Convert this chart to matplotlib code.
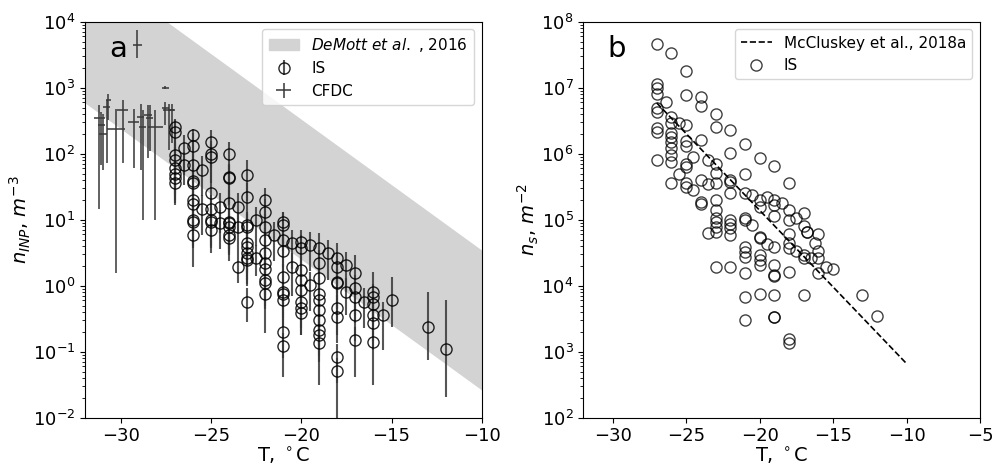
import numpy as np
import matplotlib
matplotlib.use('Agg')
import matplotlib.pyplot as plt
from matplotlib.patches import Patch

# ---- panel a: IS (immersion freezing), log10 n_INP with error bars (decades)
is_T = [-27, -27, -27, -27, -27, -27, -27, -27,
        -26.5, -26.5,
        -26, -26, -26, -26, -26, -26, -26, -26, -26, -26,
        -25.5, -25.5,
        -25, -25, -25, -25, -25, -25, -25, -25,
        -24.5, -24.5,
        -24, -24, -24, -24, -24, -24, -24, -24, -24,
        -23.5, -23.5, -23.5,
        -23, -23, -23, -23, -23, -23, -23, -23, -23, -23,
        -22.5, -22.5,
        -22, -22, -22, -22, -22, -22, -22, -22, -22, -22,
        -21.5,
        -21, -21, -21, -21, -21, -21, -21, -21, -21, -21,
        -20.5, -20.5,
        -20, -20, -20, -20, -20, -20, -20, -20,
        -19.5, -19.5,
        -19, -19, -19, -19, -19, -19, -19, -19, -19, -19,
        -18.5,
        -18, -18, -18, -18, -18, -18, -18, -18,
        -17.5, -17.5,
        -17, -17, -17, -17, -17,
        -16.5,
        -16, -16, -16, -16, -16, -16,
        -15.5, -15, -13, -12]
is_logn = [2.41, 2.33, 1.98, 1.90, 1.78, 1.70, 1.63, 1.55,
           2.08, 1.83,
           2.28, 2.11, 1.83, 1.58, 1.55, 1.30, 1.24, 1.00, 0.97, 0.77,
           1.76, 1.17,
           2.18, 2.00, 1.95, 1.40, 1.17, 1.00, 0.97, 0.84,
           1.20, 0.95,
           2.00, 1.65, 1.63, 1.25, 0.97, 0.95, 0.89, 0.77, 0.72,
           1.20, 0.89, 0.29,
           1.68, 1.35, 0.92, 0.89, 0.64, 0.59, 0.49, 0.42, 0.39, -0.24,
           1.00, 0.42,
           1.30, 1.12, 0.89, 0.69, 0.49, 0.34, 0.26, 0.09, 0.04, -0.12,
           0.77,
           0.97, 0.92, 0.69, 0.52, 0.13, -0.09, -0.12, -0.22, -0.70, -0.92,
           0.65, 0.29,
           0.67, 0.57, 0.24, 0.09, -0.07, -0.24, -0.34, -0.42,
           0.62, 0.01,
           0.57, 0.34, 0.11, -0.12, -0.22, -0.37, -0.52, -0.67, -0.75, -0.87,
           0.49,
           0.42, 0.29, 0.06, 0.04, -0.34, -0.47, -1.08, -1.30,
           0.31, -0.09,
           0.19, -0.04, -0.17, -0.44, -0.82,
           -0.24,
           -0.09, -0.17, -0.27, -0.44, -0.57, -0.85,
           -0.44, -0.22, -0.63, -0.96]
# lowest point of each column carries the long lower bar
is_dlo_low = {-27: 0.30, -26.5: 0.3, -26: 0.48, -25.5: 0.4, -25: 0.35, -24.5: 0.4,
              -24: 0.25, -23.5: 0.25, -23: 0.31, -22.5: 0.28, -22: 0.6, -21.5: 0.4,
              -21: 0.46, -20.5: 0.45, -20: 0.33, -19.5: 0.4, -19: 0.63, -18.5: 0.4,
              -18: 3.0, -17.5: 0.35, -17: 0.56, -16.5: 0.4, -16: 0.65,
              -15.5: 0.53, -15: 0.40, -13: 0.50, -12: 0.72}
is_dhi_top = {-27: 0.10, -26: 0.10, -25: 0.18, -24: 0.18, -23: 0.22, -22: 0.18,
              -21: 0.15, -20: 0.17, -19: 0.23, -18: 0.23, -17: 0.28, -16: 0.30,
              -15: 0.35, -13: 0.54, -12: 0.74}

# ---- panel a: CFDC
cf_T = [-31.2, -31.1, -31.0, -30.8, -30.7, -30.3, -29.9, -29.3, -28.9,
        -28.8, -28.5, -28.4, -28.1, -27.55, -27.55, -27.35, -27.2, -29.1]
cf_logn = [2.54, 2.43, 2.30, 2.71, 2.81, 2.38, 2.66, 2.48, 2.56,
           2.41, 2.59, 2.54, 2.41, 3.00, 2.69, 2.66, 2.66, 3.65]
cf_dT = [0.3, 0.2, 0.2, 0.2, 0.15, 0.5, 0.3, 0.3, 0.2,
         0.2, 0.2, 0.2, 0.4, 0.2, 0.2, 0.3, 0.2, 0.25]
cf_dlo = [1.37, 0.6, 0.55, 0.85, 0.3, 2.19, 0.8, 0.7, 0.8,
          1.41, 0.65, 0.5, 1.41, 0.02, 0.25, 0.6, 0.5, 0.2]
cf_dhi = [0.2, 0.2, 0.3, 0.1, 0.1, 0.3, 0.15, 0.2, 0.2,
          0.25, 0.15, 0.2, 0.25, 0.02, 0.1, 0.1, 0.1, 0.22]

# DeMott et al. 2016 band edges (log10 n_INP)
dm_T = [-32, -10]
dm_low = [2.77, -1.58]
dm_high = [4.90, 0.54]

# ---- panel b: IS n_s (log10)
ns_T = [-27, -27, -27, -27, -27, -27, -27, -27, -27,
        -26.4,
        -26, -26, -26, -26, -26, -26, -26, -26, -26, -26,
        -25.5, -25.5,
        -25, -25, -25, -25, -25, -25, -25, -25, -25,
        -24.5, -24.5,
        -24, -24, -24, -24, -24, -24,
        -23.5, -23.5, -23.5,
        -23, -23, -23, -23, -23, -23, -23, -23, -23, -23, -23, -23,
        -22, -22, -22, -22, -22, -22, -22, -22, -22, -22,
        -21, -21, -21, -21, -21, -21, -21, -21, -21, -21, -21,
        -20.5, -20.5,
        -20, -20, -20, -20, -20, -20, -20, -20, -20,
        -19.5, -19.5,
        -19, -19, -19, -19, -19, -19, -19, -19, -19, -19, -19,
        -18.5,
        -18, -18, -18, -18, -18, -18, -18, -18, -18,
        -17.5, -17.5,
        -17, -17, -16.8, -16.8, -17, -17, -17,
        -16.5, -16.2,
        -16, -16, -16, -16,
        -15.5, -15, -13, -12]
ns_log = [7.66, 7.06, 6.99, 6.90, 6.69, 6.64, 6.39, 6.33, 5.90,
          6.79,
          7.52, 6.55, 6.46, 6.32, 6.26, 6.18, 6.08, 5.98, 5.88, 5.56,
          6.47, 5.69,
          7.25, 6.89, 6.43, 6.20, 6.12, 5.84, 5.80, 5.56, 5.50,
          5.95, 5.45,
          6.86, 6.72, 6.21, 5.60, 5.27, 5.24,
          5.91, 5.54, 4.80,
          6.60, 6.40, 5.84, 5.71, 5.55, 5.30, 5.15, 5.02, 4.96, 4.89, 4.82, 4.29,
          6.36, 6.01, 5.60, 5.57, 5.40, 5.00, 4.94, 4.87, 4.77, 4.29,
          6.15, 5.69, 5.40, 5.02, 5.00, 4.59, 4.51, 4.43, 4.19, 3.83, 3.48,
          5.37, 4.92,
          5.93, 5.30, 5.20, 4.74, 4.72, 4.47, 4.39, 4.31, 3.88,
          5.35, 4.63,
          5.82, 5.30, 5.22, 5.05, 4.59, 4.31, 4.16, 4.14, 3.86, 3.53, 3.52,
          5.25,
          5.55, 5.15, 5.00, 4.79, 4.64, 4.57, 4.21, 3.20, 3.13,
          5.02, 4.53,
          5.10, 4.90, 4.82, 4.82, 4.47, 4.42, 3.86,
          4.42, 4.64,
          4.79, 4.52, 4.42, 4.19,
          4.29, 4.26, 3.86, 3.54]

# McCluskey et al. 2018a fit line (log10 n_s)
mc_T = [-27, -10]
mc_log = [6.77, 2.82]

TICK_FS = 13
LAB_FS = 14
GREY = '0.22'

fig = plt.figure(figsize=(9.95, 4.68), dpi=100)
ax1 = fig.add_axes([0.0854, 0.1075, 0.3987, 0.846])
ax2 = fig.add_axes([0.5862, 0.1075, 0.3987, 0.846])

# ---------- panel a
ax1.fill_between(dm_T, 10 ** np.array(dm_low), 10 ** np.array(dm_high),
                 color='lightgray', linewidth=0, zorder=0)

T = np.array(is_T, dtype=float)
L = np.array(is_logn)
dlo = np.full(len(T), 0.4)
dhi = np.full(len(T), 0.2)
for t in np.unique(T):
    idx = np.where(T == t)[0]
    lowest = idx[np.argmin(L[idx])]
    top = idx[np.argmax(L[idx])]
    dlo[lowest] = is_dlo_low.get(t, 0.4)
    dhi[top] = is_dhi_top.get(t, 0.2)
n = 10 ** L
yerr = [n - 10 ** (L - dlo), 10 ** (L + dhi) - n]
ax1.errorbar(T, n, yerr=yerr, fmt='o', mfc='none', mec='k', ms=8, mew=1.0,
             ecolor=GREY, elinewidth=1.5, capsize=0, alpha=0.85, label='IS', zorder=3)

cL = np.array(cf_logn)
cn = 10 ** cL
cyerr = [cn - 10 ** (cL - np.array(cf_dlo)), 10 ** (cL + np.array(cf_dhi)) - cn]
ax1.errorbar(cf_T, cn, xerr=cf_dT, yerr=cyerr, fmt='none', ecolor=GREY,
             elinewidth=1.3, capsize=0, alpha=0.85, label='CFDC', zorder=2)

ax1.set_yscale('log')
ax1.set_xlim(-32, -10)
ax1.set_ylim(1e-2, 1e4)
ax1.set_xticks([-30, -25, -20, -15, -10])
ax1.tick_params(labelsize=TICK_FS)
ax1.set_xlabel(r'T, $^\circ$C', fontsize=LAB_FS, labelpad=0)
ax1.set_ylabel(r'$n_{INP}$, $m^{-3}$', fontsize=LAB_FS, labelpad=0)
ax1.text(0.06, 0.93, 'a', transform=ax1.transAxes, fontsize=21, va='center')

h, lab = ax1.get_legend_handles_labels()
band = Patch(color='lightgray', label=r'$\it{DeMott\ et\ al.}$ , 2016')
ax1.legend([band] + h, [band.get_label()] + lab, loc='upper right', fontsize=11)

# ---------- panel b
ax2.plot(mc_T, 10 ** np.array(mc_log), '--', color='k', lw=1.2,
         label='McCluskey et al., 2018a')
ax2.plot(ns_T, 10 ** np.array(ns_log), 'o', mfc='none', mec='k', ms=8, mew=1.0,
         alpha=0.75, label='IS')
ax2.set_yscale('log')
ax2.set_xlim(-32, -5)
ax2.set_ylim(1e2, 1e8)
ax2.set_xticks([-30, -25, -20, -15, -10, -5])
ax2.tick_params(labelsize=TICK_FS)
ax2.set_xlabel(r'T, $^\circ$C', fontsize=LAB_FS, labelpad=0)
ax2.set_ylabel(r'$n_s$, $m^{-2}$', fontsize=LAB_FS, labelpad=0)
ax2.text(0.06, 0.93, 'b', transform=ax2.transAxes, fontsize=21, va='center')
ax2.legend(loc='upper right', fontsize=11)

fig.savefig('out.png', dpi=100)
